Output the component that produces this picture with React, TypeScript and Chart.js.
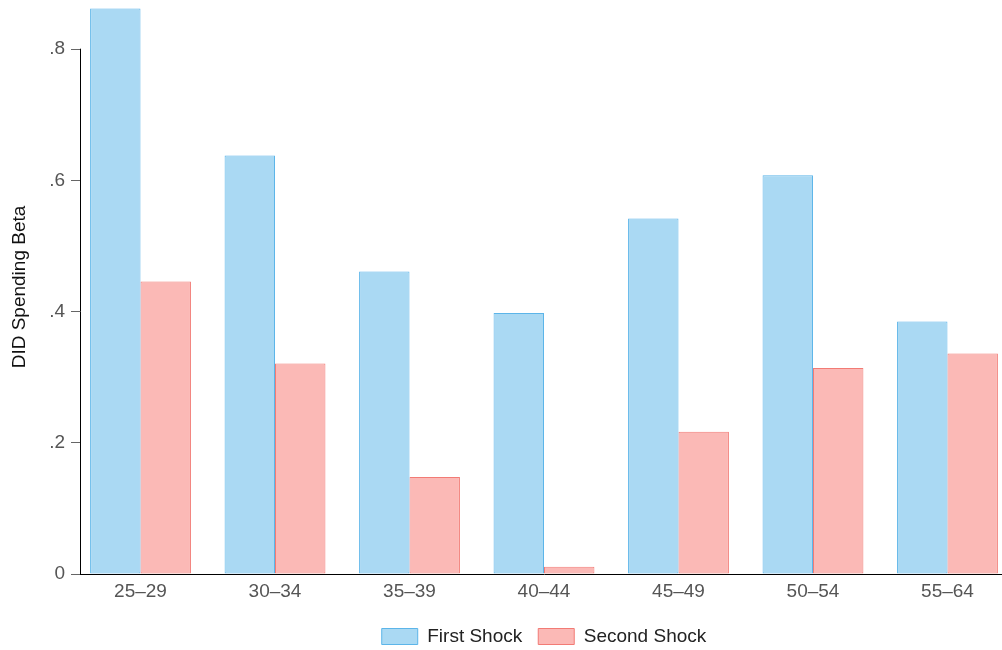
import React, { useEffect, useRef } from "react";
import { Chart, registerables } from "chart.js";

Chart.register(...registerables);

const categories = ["25–29", "30–34", "35–39", "40–44", "45–49", "50–54", "55–64"];
const firstShock = [0.862, 0.638, 0.461, 0.398, 0.542, 0.608, 0.385];
const secondShock = [0.446, 0.321, 0.148, 0.011, 0.217, 0.314, 0.336];
const yTickValues = [0, 0.2, 0.4, 0.6, 0.8];

const FONT = "'Liberation Sans', Arial, Helvetica, sans-serif";

const yAxisLine = {
  id: "yAxisLine",
  afterDatasetsDraw(chart: any) {
    const y = chart.scales.y;
    const x = Math.round(chart.chartArea.left) + 0.5;
    const ctx = chart.ctx;
    ctx.save();
    ctx.strokeStyle = "#000";
    ctx.lineWidth = 1;
    ctx.beginPath();
    ctx.moveTo(x, y.getPixelForValue(0) + 0.5);
    ctx.lineTo(x, y.getPixelForValue(0.8) - 0.5);
    ctx.stroke();
    ctx.restore();
  },
};

export default function App() {
  const ref = useRef<HTMLCanvasElement>(null);
  useEffect(() => {
    if (!ref.current) return;
    const chart = new Chart(ref.current, {
      type: "bar",
      data: {
        datasets: [
          {
            label: "First Shock",
            data: firstShock.map((v, i) => ({ x: i, y: v })),
            backgroundColor: "#aad9f3",
            borderColor: "#5cb5e9",
            borderWidth: 1,
            borderSkipped: false,
          },
          {
            label: "Second Shock",
            data: secondShock.map((v, i) => ({ x: i, y: v })),
            backgroundColor: "#fbb9b6",
            borderColor: "#f27b75",
            borderWidth: 1,
            borderSkipped: false,
          },
        ],
      },
      options: {
        responsive: false,
        animation: false,
        devicePixelRatio: 1,
        layout: { padding: { left: 0, right: 2, top: 0, bottom: 0 } },
        datasets: { bar: { categoryPercentage: 0.75, barPercentage: 1 } },
        scales: {
          x: {
            type: "linear",
            min: -0.45,
            max: 6.45,
            offset: false,
            grid: { display: false, drawTicks: false },
            border: { display: true, color: "#000", width: 1 },
            afterBuildTicks(scale: any) {
              scale.ticks = categories.map((_, i) => ({ value: i }));
            },
            afterFit(scale: any) {
              scale.height = 37;
            },
            ticks: {
              autoSkip: false,
              maxRotation: 0,
              padding: 6,
              color: "#555",
              font: { family: FONT, size: 19 },
              callback: (v: any) => categories[Math.round(Number(v))] ?? "",
            },
          },
          y: {
            min: 0,
            max: 0.875,
            border: { display: false },
            grid: {
              display: true,
              drawOnChartArea: false,
              drawTicks: true,
              tickLength: 9,
              color: "#666",
            },
            afterBuildTicks(scale: any) {
              scale.ticks = yTickValues.map((v) => ({ value: v }));
            },
            afterFit(scale: any) {
              scale.width = 80;
              scale.paddingTop = 0;
              scale.paddingBottom = 0;
            },
            ticks: {
              padding: 6,
              color: "#555",
              font: { family: FONT, size: 19 },
              callback: (v: any) => {
                const n = Number(v);
                if (Math.abs(n) < 1e-9) return "0";
                return n.toFixed(1).replace(/^0/, "");
              },
            },
            title: {
              display: true,
              text: "DID Spending Beta",
              color: "#111",
              font: { family: FONT, size: 19 },
              padding: { top: 8, bottom: 0 },
            },
          },
        },
        plugins: {
          legend: {
            position: "bottom",
            fullSize: false,
            labels: {
              boxWidth: 36,
              boxHeight: 16,
              padding: 16,
              color: "#222",
              font: { family: FONT, size: 19 },
            },
          },
          tooltip: { enabled: false },
        },
      } as any,
      plugins: [yAxisLine],
    });
    return () => chart.destroy();
  }, []);

  return (
    <div
      style={{
        position: "fixed",
        left: 0,
        top: 0,
        width: 1002,
        height: 650,
        overflow: "hidden",
        background: "#fff",
      }}
    >
      <canvas ref={ref} width={1010} height={656} style={{ display: "block" }} />
    </div>
  );
}
